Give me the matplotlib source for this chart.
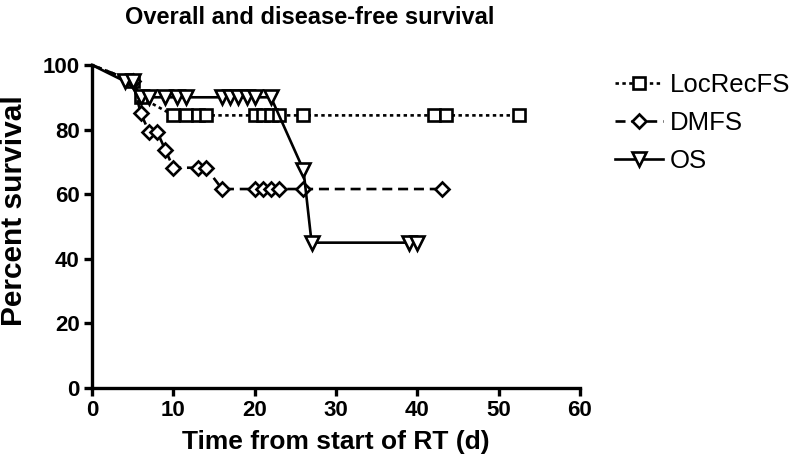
import matplotlib.pyplot as plt

plt.rcParams["font.family"] = ["Liberation Sans", "DejaVu Sans"]

# Local recurrence-free survival
loc_t = [0, 5, 6, 10, 11.5, 13, 14, 20, 21, 22, 23, 26, 42, 43.5, 52.5]
loc_v = [100, 95, 90, 84.4, 84.4, 84.4, 84.4, 84.4, 84.4, 84.4, 84.4, 84.4, 84.4, 84.4, 84.4]

# Distant metastasis-free survival
dm_t = [0, 5, 6, 7, 8, 9, 10, 13, 14, 16, 20, 21, 22, 23, 26, 43]
dm_v = [100, 95, 85, 79.4, 79.4, 73.8, 68.2, 68.2, 68.2, 61.6, 61.6, 61.6, 61.6, 61.6, 61.6, 61.6]

# Overall survival
os_t = [0, 4, 5, 6, 7, 9, 10.5, 11.5, 16, 17, 18, 19, 20, 22, 26, 27, 39, 40]
os_v = [100, 95, 95, 90, 90, 90, 90, 90, 90, 90, 90, 90, 90, 90, 67.5, 45, 45, 45]

labels = ["LocRecFS", "DMFS", "OS"]

fig = plt.figure(figsize=(7.93, 4.68), dpi=100, facecolor="white")
ax = fig.add_axes([92 / 793, 1 - 388 / 468, (580 - 92) / 793, (388 - 65) / 468])

common = dict(color="black", lw=1.9, mfc="white", mec="black", mew=1.9,
              markevery=slice(1, None), clip_on=False)
ax.plot(loc_t, loc_v, ls=(0, (1.3, 1.3)), marker="s", ms=9, label=labels[0], **common)
ax.plot(dm_t, dm_v, ls=(0, (3.8, 2.2)), marker="D", ms=7, label=labels[1], **common)
ax.plot(os_t, os_v, ls="-", marker="v", ms=9.5, label=labels[2], **common)

# Axes
ax.spines["top"].set_visible(False)
ax.spines["right"].set_visible(False)
for side in ["left", "bottom"]:
    ax.spines[side].set_linewidth(2.4)
ax.set_xlim(0, 60)
ax.set_ylim(0, 100)
ax.set_xticks(range(0, 61, 10))
ax.set_yticks(range(0, 101, 20))
ax.tick_params(width=2.4, length=6, labelsize=16, pad=3)
for lab in ax.get_xticklabels() + ax.get_yticklabels():
    lab.set_fontweight("bold")

ax.set_xlabel("Time from start of RT (d)", fontsize=19, fontweight="bold", labelpad=6)
ax.set_ylabel("Percent survival", fontsize=21.5, fontweight="bold")
ax.yaxis.set_label_coords(-0.132, 0.55)

# Title
fig.text(310 / 793, 1 - 18 / 468, "Overall and disease-free survival",
         fontsize=17, fontweight="bold", ha="center", va="center")

# Legend
ax.legend(loc="upper left", bbox_to_anchor=(615 / 793, 1 - 73 / 468),
          bbox_transform=fig.transFigure, frameon=False, fontsize=18.5,
          handlelength=1.85, handletextpad=0.3, labelspacing=0.55,
          borderpad=0, borderaxespad=0)

fig.savefig("out.png", dpi=100)
